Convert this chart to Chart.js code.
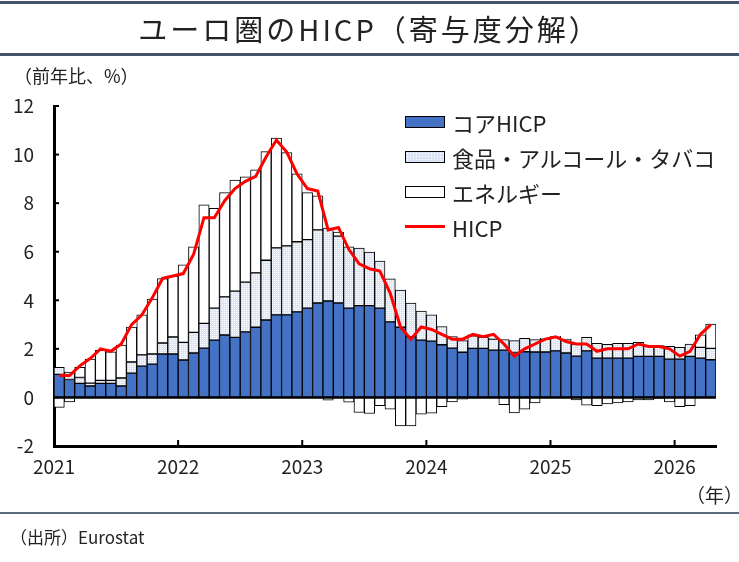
<!DOCTYPE html>
<html lang="ja">
<head>
<meta charset="utf-8">
<script src="https://cdn.jsdelivr.net/npm/chart.js@4.4.1/dist/chart.umd.min.js"></script>
<style>
  body { margin: 0; background: #fff; font-family: "Noto Sans CJK JP", "Noto Sans", sans-serif; color: #222; }
  #wrap { position: relative; width: 739px; height: 562px; overflow: hidden; }
  #chart { position: absolute; left: 0; top: 0; }
  .rule { position: absolute; left: 0; width: 739px; background: #44546a; }
  .txt { position: absolute; white-space: nowrap; }
  #title { left: 0; width: 739px; top: 9px; text-align: center; font-size: 29px; line-height: 38px; letter-spacing: 3px; }
  #legend { position: absolute; left: 405px; top: 104px; }
  .item { height: 35px; display: flex; align-items: center; font-size: 22px; }
  .box { width: 38px; height: 10px; border: 1px solid #000; margin-right: 7px; }
  .dash { width: 40px; height: 3px; background: #ff0000; margin-right: 7px; }
</style>
</head>
<body>
<div id="wrap">
  <canvas id="chart" width="739" height="562"></canvas>
  <div class="rule" style="top:1px;height:3px"></div>
  <div class="txt" id="title">ユーロ圏のHICP（寄与度分解）</div>
  <div class="rule" style="top:53px;height:3px"></div>
  <div class="txt" style="left:14px;top:63px;font-size:18px;line-height:24px">（前年比、%）</div>
  <div id="legend"></div>
  <div class="txt" style="left:686px;top:483px;font-size:19px;line-height:24px">（年）</div>
  <div class="rule" style="top:512px;height:2px;background:#5a6a80"></div>
  <div class="txt" style="left:10px;top:525px;font-size:17px;line-height:24px">（出所）Eurostat</div>
</div>
<script>
// monthly, Jan 2021 - Apr 2026 (contribution, % pts)
const years = ['2021', '2022', '2023', '2024', '2025', '2026'];

const core = [0.95, 0.74, 0.58, 0.47, 0.58, 0.58, 0.47, 1.00, 1.29, 1.37,
    1.79, 1.79, 1.54, 1.83, 2.03, 2.36, 2.57, 2.47, 2.70, 2.89,
    3.19, 3.40, 3.40, 3.52, 3.68, 3.89, 3.97, 3.89, 3.68, 3.78,
    3.78, 3.68, 3.11, 2.89, 2.50, 2.36, 2.32, 2.17, 2.03, 1.86,
    2.02, 2.02, 1.95, 1.95, 1.85, 1.88, 1.87, 1.87, 1.92, 1.83,
    1.70, 1.92, 1.62, 1.62, 1.62, 1.62, 1.69, 1.69, 1.69, 1.58,
    1.58, 1.69, 1.62, 1.55];

const food = [0.29, 0.30, 0.24, 0.12, 0.12, 0.12, 0.33, 0.46, 0.46, 0.42,
    0.45, 0.70, 0.73, 0.85, 1.02, 1.32, 1.57, 1.91, 2.05, 2.24,
    2.46, 2.76, 2.84, 2.89, 2.82, 3.01, 3.00, 2.75, 2.52, 2.37,
    2.20, 1.93, 1.77, 1.53, 1.39, 1.20, 1.08, 0.75, 0.48, 0.48,
    0.52, 0.47, 0.45, 0.43, 0.49, 0.55, 0.51, 0.53, 0.56, 0.55,
    0.50, 0.55, 0.61, 0.57, 0.61, 0.61, 0.58, 0.44, 0.44, 0.52,
    0.48, 0.51, 0.44, 0.47];

const energy = [-0.41, -0.18, 0.42, 0.99, 1.24, 1.18, 1.36, 1.44, 1.65, 2.26,
    2.65, 2.51, 3.19, 3.52, 4.88, 4.11, 4.29, 4.57, 4.33, 4.24,
    4.47, 4.52, 3.84, 2.80, 1.93, 1.40, -0.11, 0.17, -0.20, -0.62,
    -0.66, -0.34, -0.48, -1.17, -1.17, -0.69, -0.65, -0.38, -0.18, -0.07,
    0.04, 0.02, 0.03, -0.30, -0.64, -0.48, -0.23, 0.03, 0.04, 0.02,
    -0.10, -0.32, -0.34, -0.27, -0.23, -0.18, -0.10, -0.10, -0.04, -0.18,
    -0.38, -0.34, 0.52, 1.00];

const hicp = [0.9, 0.9, 1.3, 1.6, 2.0, 1.9, 2.2, 3.0, 3.4, 4.1,
    4.9, 5.0, 5.1, 5.9, 7.4, 7.4, 8.1, 8.6, 8.9, 9.1,
    9.9, 10.6, 10.1, 9.2, 8.6, 8.5, 6.9, 7.0, 6.1, 5.5,
    5.3, 5.2, 4.3, 2.9, 2.4, 2.9, 2.8, 2.6, 2.4, 2.4,
    2.6, 2.5, 2.6, 2.2, 1.7, 2.0, 2.2, 2.4, 2.5, 2.3,
    2.2, 2.2, 1.9, 2.0, 2.0, 2.0, 2.2, 2.1, 2.1, 2.0,
    1.7, 1.9, 2.6, 3.0];

const seriesNames = ['コアHICP', '食品・アルコール・タバコ', 'エネルギー', 'HICP'];

const ctx = document.getElementById('chart').getContext('2d');

// light dotted fill for food
function dotPattern() {
    const c = document.createElement('canvas');
    c.width = 4; c.height = 4;
    const g = c.getContext('2d');
    g.fillStyle = '#dbe5f5';
    g.fillRect(0, 0, 4, 4);
    g.fillStyle = '#ffffff';
    g.fillRect(0, 0, 1, 1);
    g.fillRect(2, 2, 1, 1);
    g.fillRect(2, 0, 1, 1);
    g.fillRect(0, 2, 1, 1);
    return ctx.createPattern(c, 'repeat');
}

// month i sits in the middle of its slot on a linear axis
const toPoints = arr => arr.map((v, i) => ({ x: i + 0.5, y: v }));

const barStyle = {
    type: 'bar',
    borderColor: '#000',
    borderWidth: 1,
    borderSkipped: false,
    barPercentage: 1,
    categoryPercentage: 1,
    order: 1
};

// inward tick marks, zero line
const axisMarks = {
    id: 'axisMarks',
    afterDatasetsDraw(chart) {
        const { ctx, chartArea, scales: { x, y } } = chart;
        ctx.save();
        ctx.strokeStyle = '#000';
        ctx.lineWidth = 2.5;
        const y0 = y.getPixelForValue(0);
        ctx.beginPath();
        ctx.moveTo(chartArea.left, y0);
        ctx.lineTo(chartArea.right, y0);
        ctx.stroke();
        ctx.lineWidth = 2;
        for (let v = -2; v <= 12; v += 2) {
            const py = y.getPixelForValue(v);
            ctx.beginPath();
            ctx.moveTo(chartArea.left, py);
            ctx.lineTo(chartArea.left + 5, py);
            ctx.stroke();
        }
        years.forEach((yr, k) => {
            const px = x.getPixelForValue(k * 12);
            ctx.beginPath();
            ctx.moveTo(px, chartArea.bottom);
            ctx.lineTo(px, chartArea.bottom - 6);
            ctx.stroke();
        });
        ctx.restore();
    }
};

const foodFill = dotPattern();

const chart = new Chart(ctx, {
    data: {
        datasets: [
            { ...barStyle, label: seriesNames[0], data: toPoints(core), backgroundColor: '#4472c4' },
            { ...barStyle, label: seriesNames[1], data: toPoints(food), backgroundColor: foodFill },
            { ...barStyle, label: seriesNames[2], data: toPoints(energy), backgroundColor: '#ffffff' },
            {
                type: 'line',
                label: seriesNames[3],
                data: toPoints(hicp),
                borderColor: '#ff0000',
                borderWidth: 3,
                pointRadius: 0,
                tension: 0,
                stack: 'hicp',
                order: 0
            }
        ]
    },
    options: {
        responsive: false,
        animation: false,
        layout: { padding: { top: 106, right: 23, left: 0, bottom: 0 } },
        plugins: { legend: { display: false }, tooltip: { enabled: false } },
        scales: {
            x: {
                type: 'linear',
                stacked: true,
                offset: false,
                min: 0,
                max: 64,
                afterFit: s => { s.height = 116; },
                grid: { display: false, drawTicks: false, offset: false },
                border: { color: '#000', width: 3 },
                ticks: {
                    stepSize: 12,
                    includeBounds: false,
                    padding: 9,
                    color: '#222',
                    font: { family: '"Noto Sans CJK JP", sans-serif', size: 19 },
                    maxRotation: 0,
                    callback: v => years[v / 12]
                }
            },
            y: {
                stacked: true,
                min: -2,
                max: 12,
                afterFit: s => { s.width = 54; },
                grid: { display: false, drawTicks: false },
                border: { color: '#000', width: 3 },
                ticks: {
                    stepSize: 2,
                    padding: 20,
                    color: '#222',
                    font: { family: '"Noto Sans CJK JP", sans-serif', size: 19 }
                }
            }
        }
    },
    plugins: [axisMarks]
});

// legend, taken from the datasets
const legendEl = document.getElementById('legend');
chart.data.datasets.forEach((ds, i) => {
    const row = document.createElement('div');
    row.className = 'item';
    const mark = document.createElement('span');
    if (ds.type === 'line') {
        mark.className = 'dash';
    } else {
        mark.className = 'box';
        if (i === 1) {
            mark.style.background = '#dbe5f5';
            mark.style.backgroundImage = 'radial-gradient(#fff 35%, transparent 40%)';
            mark.style.backgroundSize = '3px 3px';
        } else {
            mark.style.background = ds.backgroundColor;
        }
    }
    row.appendChild(mark);
    row.appendChild(document.createTextNode(ds.label));
    legendEl.appendChild(row);
});
</script>
</body>
</html>
